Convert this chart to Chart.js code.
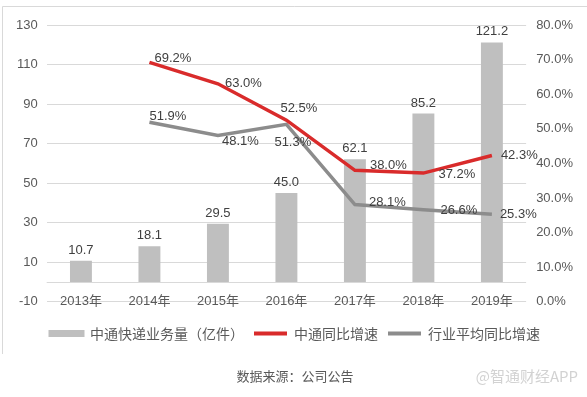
<!DOCTYPE html>
<html>
<head>
<meta charset="utf-8">
<script src="https://cdn.jsdelivr.net/npm/chart.js@4.4.1/dist/chart.umd.min.js"></script>
<style>
  html, body { margin: 0; padding: 0; background: #fff; }
  #wrap { width: 587px; height: 397px; }
</style>
</head>
<body>
<div id="wrap"><canvas id="c" width="587" height="397"></canvas></div>
<script>
// values
var years = ['2013年', '2014年', '2015年', '2016年', '2017年', '2018年', '2019年'];
var volume = [10.7, 18.1, 29.5, 45.0, 62.1, 85.2, 121.2];          // 亿件
var ztoGrowth = [null, 69.2, 63.0, 52.5, 38.0, 37.2, 42.3];         // %
var industryGrowth = [null, 51.9, 48.1, 51.3, 28.1, 26.6, 25.3];    // %

// label nudges (dx to label left edge, dy to label middle), per point
var ztoLabelPos = [null, [5, -4], [7, 0], [-6, -12], [15, -5], [15, 1], [9, 0]];
var indLabelPos = [null, [0, -6], [4, 6], [-12, 18], [14, -2], [17, 1], [8, 0]];

var NUM_FONT = "'Liberation Sans', 'Noto Sans CJK SC', sans-serif";
var CJK_FONT = "'Noto Sans CJK SC', 'Liberation Sans', sans-serif";

var frame = {
    id: 'frame',
    beforeDraw: function(chart){
        // excel puts the year labels across the bottom gridline, so don't clip them to the axis box
        chart.scales.x._computeLabelArea = function(){ return undefined; };

        var ctx = chart.ctx;
        ctx.save();
        ctx.fillStyle = '#fff';
        ctx.fillRect(0, 0, chart.width, chart.height);
        ctx.strokeStyle = '#d9d9d9';
        ctx.lineWidth = 1;
        ctx.beginPath();
        ctx.moveTo(2.5, 354);
        ctx.lineTo(2.5, 6.5);
        ctx.lineTo(chart.width, 6.5);
        ctx.stroke();
        // category axis crosses at zero
        var y0 = Math.round(chart.scales.y.getPixelForValue(0)) + 0.5;
        ctx.beginPath();
        ctx.moveTo(chart.chartArea.left, y0);
        ctx.lineTo(chart.chartArea.right, y0);
        ctx.stroke();
        ctx.restore();
    },
    afterDraw: function(chart){
        var ctx = chart.ctx;
        ctx.save();
        ctx.font = '15px ' + CJK_FONT;
        ctx.fillStyle = '#d2d2d2';
        ctx.textAlign = 'right';
        ctx.textBaseline = 'middle';
        ctx.fillText('@智通财经APP', 578, 376);
        ctx.restore();
    }
};

var valueLabels = {
    id: 'valueLabels',
    afterDatasetsDraw: function(chart){
        var ctx = chart.ctx;
        ctx.save();
        ctx.font = '13px ' + NUM_FONT;
        ctx.fillStyle = '#404040';
        // bars
        chart.getDatasetMeta(0).data.forEach(function(bar, i){
            ctx.textAlign = 'center';
            ctx.textBaseline = 'bottom';
            ctx.fillText(volume[i].toFixed(1), bar.x, bar.y - 4);
        });
        // lines
        [[1, ztoGrowth, ztoLabelPos], [2, industryGrowth, indLabelPos]].forEach(function(s){
            chart.getDatasetMeta(s[0]).data.forEach(function(pt, i){
                if (s[1][i] == null) return;
                ctx.textAlign = 'left';
                ctx.textBaseline = 'middle';
                ctx.fillText(s[1][i].toFixed(1) + '%', pt.x + s[2][i][0], pt.y + s[2][i][1]);
            });
        });
        ctx.restore();
    }
};

var config = {
    type: 'bar',
    data: {
        labels: years,
        datasets: [
            {
                type: 'bar',
                label: '中通快递业务量（亿件）',
                data: volume,
                backgroundColor: '#bfbfbf',
                barPercentage: 0.64,
                categoryPercentage: 0.5,
                yAxisID: 'y',
                order: 3
            },
            {
                type: 'line',
                label: '中通同比增速',
                data: ztoGrowth,
                borderColor: '#d92b2b',
                backgroundColor: '#d92b2b',
                borderWidth: 3.5,
                pointRadius: 0,
                tension: 0,
                yAxisID: 'y1',
                order: 1
            },
            {
                type: 'line',
                label: '行业平均同比增速',
                data: industryGrowth,
                borderColor: '#8c8c8c',
                backgroundColor: '#8c8c8c',
                borderWidth: 3.5,
                pointRadius: 0,
                tension: 0,
                yAxisID: 'y1',
                order: 2
            }
        ]
    },
    options: {
        responsive: false,
        animation: false,
        devicePixelRatio: 1,
        layout: { padding: { top: 25, left: 7, right: 4, bottom: 0 } },
        plugins: {
            tooltip: { enabled: false },
            legend: {
                position: 'bottom',
                labels: {
                    boxWidth: 33,
                    boxHeight: 4,
                    padding: 10,
                    color: '#595959',
                    font: { size: 14, family: CJK_FONT },
                    generateLabels: function(chart){
                        return chart.data.datasets.map(function(ds, i){
                            var isBar = ds.type === 'bar';
                            return {
                                text: ds.label,
                                fillStyle: isBar ? '#bfbfbf' : ds.borderColor,
                                strokeStyle: isBar ? '#bfbfbf' : ds.borderColor,
                                lineWidth: isBar ? 3 : 0,
                                fontColor: '#595959',
                                datasetIndex: i,
                                hidden: false
                            };
                        });
                    }
                }
            },
            title: {
                display: true,
                position: 'bottom',
                text: '数据来源：公司公告',
                color: '#595959',
                font: { size: 13, weight: 'normal', family: CJK_FONT },
                padding: { top: 18, bottom: 13 }
            }
        },
        scales: {
            x: {
                offset: true,
                grid: { display: false, drawTicks: false },
                border: { display: false },
                ticks: {
                    padding: -8,
                    color: '#595959',
                    font: { size: 13, family: NUM_FONT },
                    maxRotation: 0
                },
                afterFit: function(axis){ axis.height += 15; }
            },
            y: {
                position: 'left',
                min: -10,
                max: 130,
                grid: { color: '#d9d9d9', drawTicks: false },
                border: { display: false },
                ticks: {
                    stepSize: 20,
                    padding: 9,
                    color: '#595959',
                    font: { size: 13, family: NUM_FONT }
                }
            },
            y1: {
                position: 'right',
                min: 0,
                max: 80,
                grid: { drawOnChartArea: false, drawTicks: false },
                border: { display: false },
                ticks: {
                    stepSize: 10,
                    padding: 10,
                    color: '#595959',
                    font: { size: 13, family: NUM_FONT },
                    callback: function(v){ return v.toFixed(1) + '%'; }
                }
            }
        }
    },
    plugins: [frame, valueLabels]
};

var chart = new Chart(document.getElementById('c'), config);
</script>
</body>
</html>
